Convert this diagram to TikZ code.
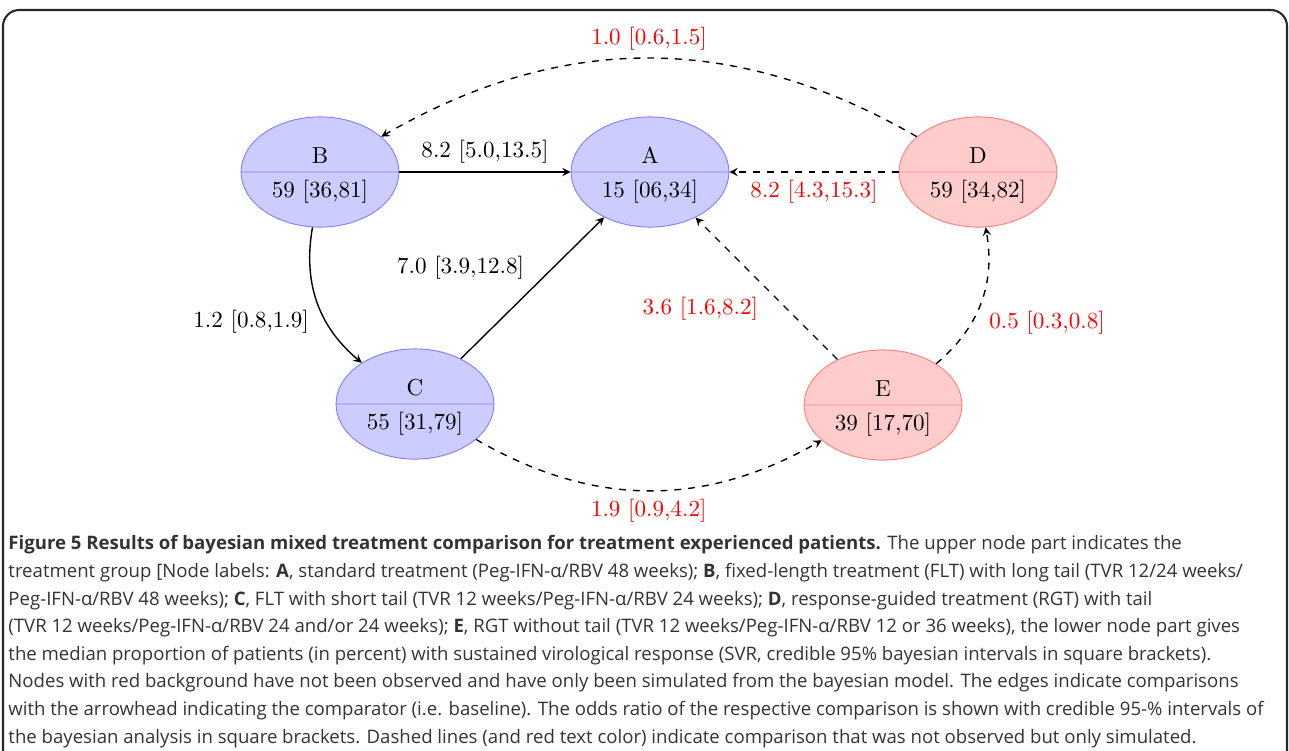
\documentclass[tikz,border=0pt]{standalone}
\usepackage{fontspec}
\newfontfamily\capfont{Open Sans}
\usetikzlibrary{shapes.multipart,arrows}

\begin{document}
\begin{tikzpicture}[x=0.433pt, y=-0.433pt,
    trt/.style={ellipse split, draw=blue!50, fill=blue!20},
    sim/.style={ellipse split, draw=red!50, fill=red!20},
    obs/.style={->, semithick},
    nobs/.style={->, semithick, dashed},
    simlab/.style={text=red},
    caption/.style={align=left, inner sep=0pt, text=black!80,
      font=\capfont\fontsize{8.05}{11.95}\selectfont},
    >=stealth]
    \useasboundingbox (0,0) rectangle (1289,750);
    \draw[line width=0.9pt, black!85, rounded corners=7pt] (3,752) -- (3,10) -- (1287,10) -- (1287,752);
    \node[trt] (A) at (650,172) {A \nodepart{lower} 15 [06,34]};
    \node[trt] (B) at (320,172) {B \nodepart{lower} 59 [36,81]};
    \node[trt] (C) at (415,404) {C \nodepart{lower} 55 [31,79]};
    \node[sim] (D) at (978,172) {D \nodepart{lower} 59 [34,82]};
    \node[sim] (E) at (883,405) {E \nodepart{lower} 39 [17,70]};
      \draw[obs] (B) -- node[above] {8.2 [5.0,13.5]} (A);
      \draw[obs] (B) to[bend right=30] node[below left] {1.2 [0.8,1.9]} (C);
      \draw[obs] (C) -- node[above left] {7.0 [3.9,12.8]} (A);
      \draw[nobs] (D) -- node[below, simlab] {8.2 [4.3,15.3]} (A);
      \draw[nobs] (D) to[bend right=30] node[above, simlab] {1.0 [0.6,1.5]} (B);
      \draw[nobs] (E) -- node[below left, simlab] {3.6 [1.6,8.2]} (A);
      \draw[nobs] (E) to[bend right=30] node[below right, simlab] {0.5 [0.3,0.8]} (D);
      \draw[nobs] (C) to[bend right=30] node[below, simlab] {1.9 [0.9,4.2]} (E);
    \node[caption, anchor=base west] (cap) at (8,743) {%
      \textbf{Figure 5 Results of bayesian mixed treatment comparison for treatment experienced patients.} The upper node part indicates the\\
      treatment group [Node labels: \textbf{A}, standard treatment (Peg-IFN-α/RBV 48 weeks); \textbf{B}, fixed-length treatment (FLT) with long tail (TVR 12/24 weeks/\\
      Peg-IFN-α/RBV 48 weeks); \textbf{C}, FLT with short tail (TVR 12 weeks/Peg-IFN-α/RBV 24 weeks); \textbf{D}, response-guided treatment (RGT) with tail\\
      (TVR 12 weeks/Peg-IFN-α/RBV 24 and/or 24 weeks); \textbf{E}, RGT without tail (TVR 12 weeks/Peg-IFN-α/RBV 12 or 36 weeks), the lower node part gives\\
      the median proportion of patients (in percent) with sustained virological response (SVR, credible 95\% bayesian intervals in square brackets).\\
      Nodes with red background have not been observed and have only been simulated from the bayesian model. The edges indicate comparisons\\
      with the arrowhead indicating the comparator (i.e. baseline). The odds ratio of the respective comparison is shown with credible 95-\% intervals of\\
      the bayesian analysis in square brackets. Dashed lines (and red text color) indicate comparison that was not observed but only simulated.};
\end{tikzpicture}
\end{document}
